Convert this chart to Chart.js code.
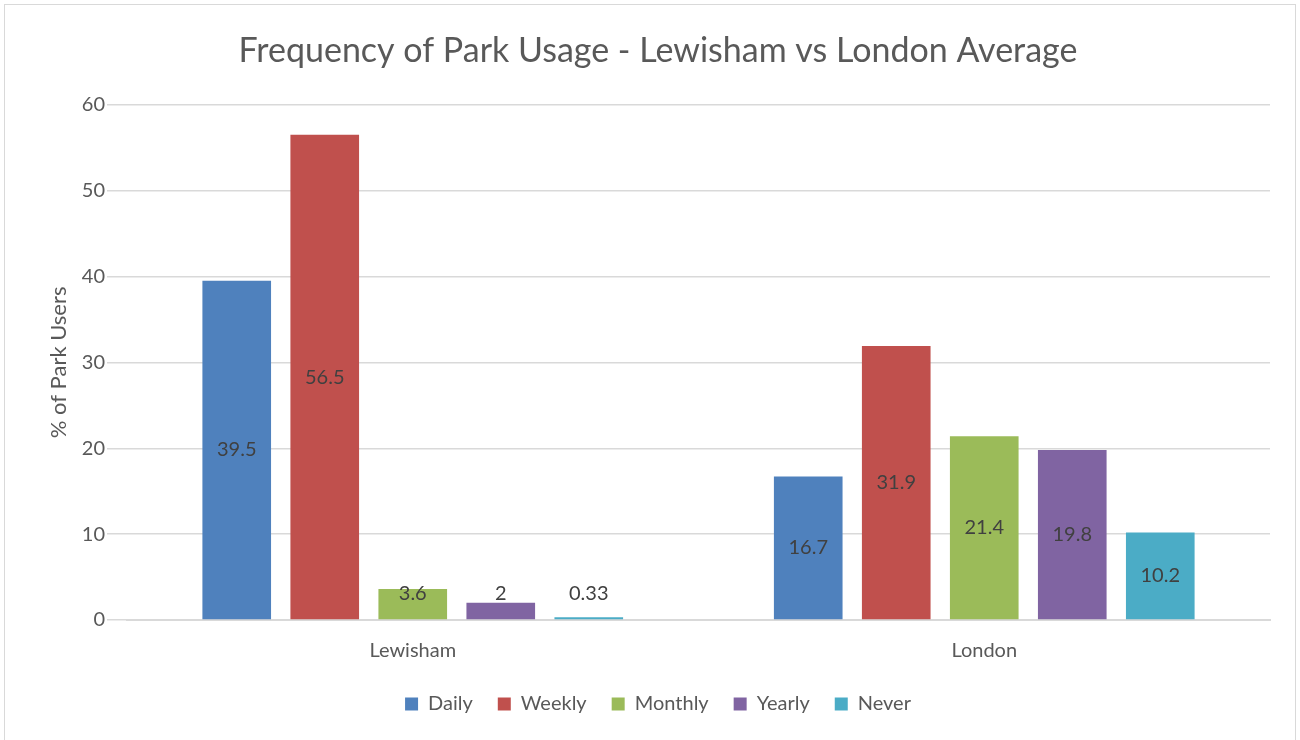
<!DOCTYPE html>
<html>
<head>
<meta charset="utf-8">
<script src="https://cdn.jsdelivr.net/npm/chart.js@4.4.1/dist/chart.umd.min.js"></script>
<style>
  html, body { margin: 0; padding: 0; background: #fff; }
  #wrap { position: absolute; left: 4px; top: 4px; width: 1292px; height: 740px; border: 1px solid #d9d9d9; box-sizing: border-box; }
  canvas { position: absolute; left: 0; top: 0; }
</style>
</head>
<body>
<div id="wrap"></div>
<canvas id="parkChart" width="1300" height="740"></canvas>
<script>
  const categories = ["Lewisham", "London"];
  const daily = [39.5, 16.7];
  const weekly = [56.5, 31.9];
  const monthly = [3.6, 21.4];
  const yearly = [2, 19.8];
  const never = [0.33, 10.2];
  const seriesNames = ["Daily", "Weekly", "Monthly", "Yearly", "Never"];
  const colors = ["#4f81bd", "#c0504d", "#9bbb59", "#8064a2", "#4bacc6"];

  const FONT = "Lato, 'Open Sans', sans-serif";
  const GREY = "#595959";

  // centred value labels, kept off the axis for very short bars
  const barLabels = {
    id: "barLabels",
    afterDatasetsDraw(chart) {
      const ctx = chart.ctx;
      const zeroY = chart.scales.y.getPixelForValue(0);
      ctx.save();
      ctx.font = "20px " + FONT;
      ctx.fillStyle = "#404040";
      ctx.textAlign = "center";
      ctx.textBaseline = "middle";
      chart.data.datasets.forEach((ds, i) => {
        chart.getDatasetMeta(i).data.forEach((bar, j) => {
          const mid = (bar.y + bar.base) / 2;
          const y = Math.min(mid, zeroY - 26);
          ctx.fillText(String(ds.data[j]), bar.x, y);
        });
      });
      ctx.restore();
    }
  };

  const ctx = document.getElementById("parkChart").getContext("2d");
  new Chart(ctx, {
    type: "bar",
    data: {
      labels: categories,
      datasets: [daily, weekly, monthly, yearly, never].map((d, i) => ({
        label: seriesNames[i],
        data: d,
        backgroundColor: colors[i],
        barPercentage: 0.78,
        categoryPercentage: 0.77
      }))
    },
    options: {
      responsive: false,
      animation: false,
      layout: { padding: { left: 46, right: 30, top: 31, bottom: 16 } },
      plugins: {
        title: {
          display: true,
          text: "Frequency of Park Usage - Lewisham vs London Average",
          color: GREY,
          font: { family: FONT, size: 34, weight: 400 },
          padding: { top: 0, bottom: 33 }
        },
        legend: {
          position: "bottom",
          labels: {
            color: GREY,
            font: { family: FONT, size: 20 },
            boxWidth: 13,
            boxHeight: 13,
            padding: 25
          }
        },
        tooltip: { enabled: false }
      },
      scales: {
        x: {
          grid: { display: false },
          border: { color: "#d9d9d9", width: 2 },
          ticks: { color: GREY, font: { family: FONT, size: 20 }, padding: 11 },
          afterFit(scale) { scale.height -= 5; }
        },
        y: {
          min: 0,
          max: 60,
          ticks: { stepSize: 10, color: GREY, font: { family: FONT, size: 20 }, padding: 2 },
          grid: { color: "#d9d9d9", lineWidth: 1.5, tickLength: 20 },
          border: { display: false },
          title: {
            display: true,
            text: "% of Park Users",
            color: GREY,
            font: { family: FONT, size: 22 },
            padding: 0
          },
          afterFit(scale) { scale.width = 81; }
        }
      }
    },
    plugins: [barLabels]
  });
</script>
</body>
</html>
